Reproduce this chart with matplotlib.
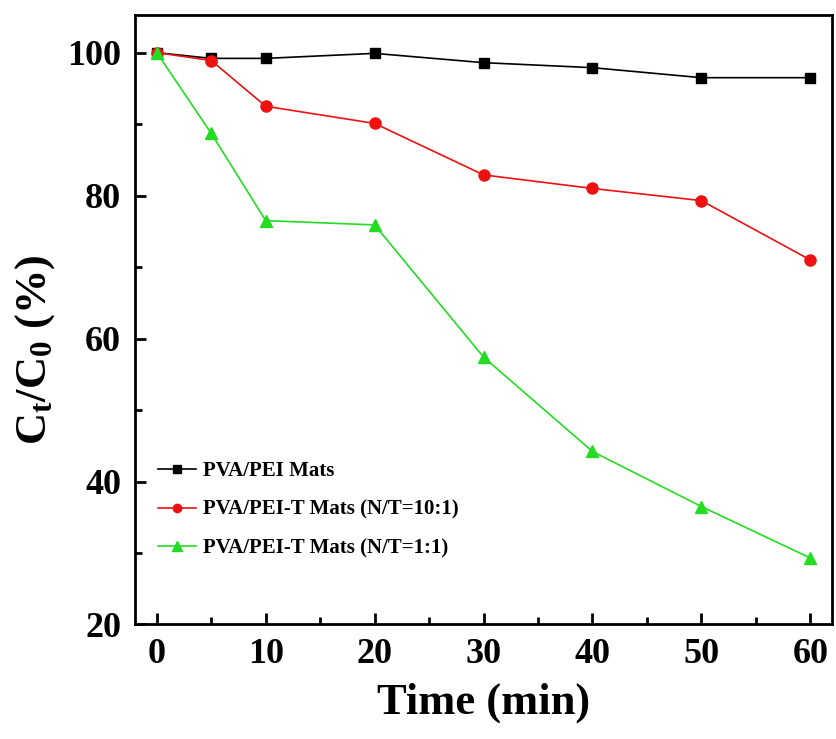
import matplotlib
matplotlib.use("Agg")
from matplotlib import pyplot as plt
from matplotlib.ticker import MultipleLocator

plt.rcParams["font.family"] = ["Liberation Serif", "DejaVu Serif"]
plt.rcParams["font.weight"] = "bold"
plt.rcParams["mathtext.fontset"] = "custom"
plt.rcParams["mathtext.rm"] = "Liberation Serif:bold"
plt.rcParams["mathtext.it"] = "Liberation Serif:bold"
plt.rcParams["mathtext.bf"] = "Liberation Serif:bold"

time = [0, 5, 10, 20, 30, 40, 50, 60]
pva_pei = [100, 99.2, 99.2, 99.9, 98.6, 97.9, 96.5, 96.5]
pva_pei_t_10 = [100, 98.9, 92.5, 90.1, 82.9, 81.0, 79.3, 71.0]
pva_pei_t_1 = [100, 88.7, 76.5, 75.9, 57.4, 44.2, 36.5, 29.3]
labels = ["PVA/PEI Mats", "PVA/PEI-T Mats (N/T=10:1)", "PVA/PEI-T Mats (N/T=1:1)"]

fig = plt.figure(figsize=(8.36, 7.39), dpi=100)
ax = fig.add_axes([0.1615, 0.155, 0.8338, 0.825])

ax.plot(time, pva_pei, color="black", marker="s", markersize=7, linewidth=1.2, label=labels[0])
ax.plot(time, pva_pei_t_10, color="#ee1111", marker="o", markersize=8, linewidth=1.2, label=labels[1])
ax.plot(time, pva_pei_t_1, color="#22dd22", marker="^", markersize=9, linewidth=1.2, label=labels[2])

ax.set_xlim(-2, 62)
ax.set_ylim(20, 105.3)
ax.xaxis.set_major_locator(MultipleLocator(10))
ax.xaxis.set_minor_locator(MultipleLocator(5))
ax.yaxis.set_major_locator(MultipleLocator(20))
ax.yaxis.set_minor_locator(MultipleLocator(10))
ax.tick_params(which="both", direction="in", width=2)
ax.tick_params(which="major", length=8, labelsize=26, pad=10)
ax.tick_params(which="minor", length=5)
for lab in ax.get_xticklabels() + ax.get_yticklabels():
    lab.set_fontweight("bold")
for s in ax.spines.values():
    s.set_linewidth(2)

ax.set_xlabel("Time (min)", fontsize=32, fontweight="bold", labelpad=8)
ax.set_ylabel(r"C$_\mathregular{t}$/C$_\mathregular{0}$ (%)", fontsize=32, fontweight="bold")
ax.yaxis.set_label_coords(-0.112, 0.45)

ax.legend(loc="center left", bbox_to_anchor=(0.033, 0.188), frameon=False,
          prop={"size": 15, "weight": "bold"}, handlelength=1.8, handletextpad=0.35,
          labelspacing=0.9, borderpad=0, borderaxespad=0, markerscale=0.75)

fig.savefig("out.png", dpi=100)
